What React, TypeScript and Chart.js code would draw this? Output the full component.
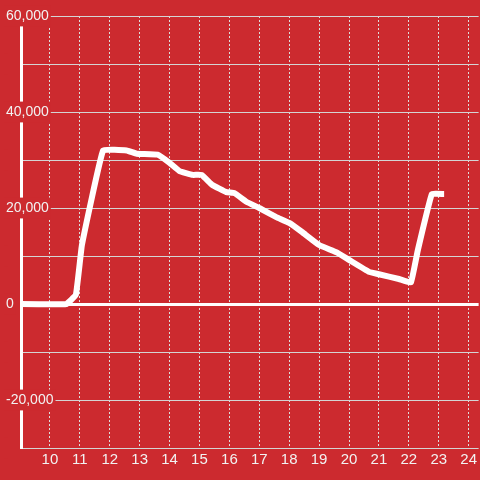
import React, { useEffect, useRef } from "react";
import { Chart, registerables } from "chart.js";

Chart.register(...registerables);

const RED = "#cc2a2f";
const FONT = "'Liberation Sans', Arial, Helvetica, sans-serif";

// hours of the day
const hours = [
  8.8, 10.55, 10.87, 11.07, 11.78, 12.57, 12.9, 13.6, 14.0, 14.33, 14.77, 15.07,
  15.43, 15.9, 16.17, 16.57, 17.0, 17.57, 18.0, 18.43, 19.0, 19.57, 20.0, 20.67,
  21.0, 21.67, 22.07, 22.3, 22.77, 23.18,
];
// series values
const values = [
  0, 0, 2000, 12300, 32000, 32000, 31300, 31100, 29400, 27700, 26900, 26900,
  24800, 23300, 23100, 21300, 20000, 18100, 16900, 15000, 12300, 10800, 9200, 6700,
  6200, 5200, 4500, 11200, 22900, 22900,
];

const xTickValues = [10, 11, 12, 13, 14, 15, 16, 17, 18, 19, 20, 21, 22, 23, 24];
const yTickValues = [-30000, -20000, -10000, 0, 10000, 20000, 30000, 40000, 50000, 60000];
const yLabeled = [-20000, 0, 20000, 40000, 60000];

export default function App() {
  const ref = useRef<HTMLCanvasElement>(null);

  useEffect(() => {
    const chart = new Chart(ref.current as HTMLCanvasElement, {
      type: "line",
      data: {
        datasets: [
          {
            data: hours.map((h, i) => ({ x: h, y: values[i] })),
            borderColor: "#ffffff",
            borderWidth: 6,
            pointRadius: 0,
            tension: 0.08,
            fill: false,
          },
        ],
      },
      options: {
        animation: false,
        responsive: true,
        maintainAspectRatio: false,
        layout: { padding: { left: 0, top: 16, right: 0, bottom: 0 } },
        plugins: { legend: { display: false }, tooltip: { enabled: false } },
        scales: {
          x: {
            type: "linear",
            min: 9.0333,
            max: 24.3333,
            afterBuildTicks: (s: any) => {
              s.ticks = xTickValues.map((v) => ({ value: v }));
            },
            afterFit: (s: any) => {
              s.height = 32;
            },
            grid: { color: "#dddddd", lineWidth: 1, drawTicks: false },
            border: { display: false, dash: [2, 2] },
            ticks: {
              color: "#f2f2f2",
              font: { family: FONT, size: 15 },
              padding: 3,
              maxRotation: 0,
              autoSkip: false,
            },
          },
          y: {
            type: "linear",
            min: -30000,
            max: 60000,
            afterBuildTicks: (s: any) => {
              s.ticks = yTickValues.map((v) => ({ value: v }));
            },
            afterFit: (s: any) => {
              s.width = 21;
            },
            grid: {
              color: (ctx: any) => (ctx.tick && ctx.tick.value === 0 ? "#ffffff" : "#d4d4d4"),
              lineWidth: (ctx: any) => (ctx.tick && ctx.tick.value === 0 ? 3 : 1),
              drawTicks: false,
            },
            border: { display: true, color: "#ffffff", width: 3 },
            ticks: {
              color: "#f2f2f2",
              font: { family: FONT, size: 14 },
              mirror: true,
              padding: -15,
              crossAlign: "near",
              showLabelBackdrop: true,
              backdropColor: RED,
              backdropPadding: 2,
              autoSkip: false,
              callback: (v: any) =>
                yLabeled.includes(Number(v)) ? Number(v).toLocaleString("en-US") : "",
            },
          },
        },
      },
    });
    return () => chart.destroy();
  }, []);

  return (
    <div
      style={{
        position: "fixed",
        left: 0,
        top: 0,
        width: 480,
        height: 480,
        background: RED,
      }}
    >
      <canvas ref={ref} />
    </div>
  );
}
